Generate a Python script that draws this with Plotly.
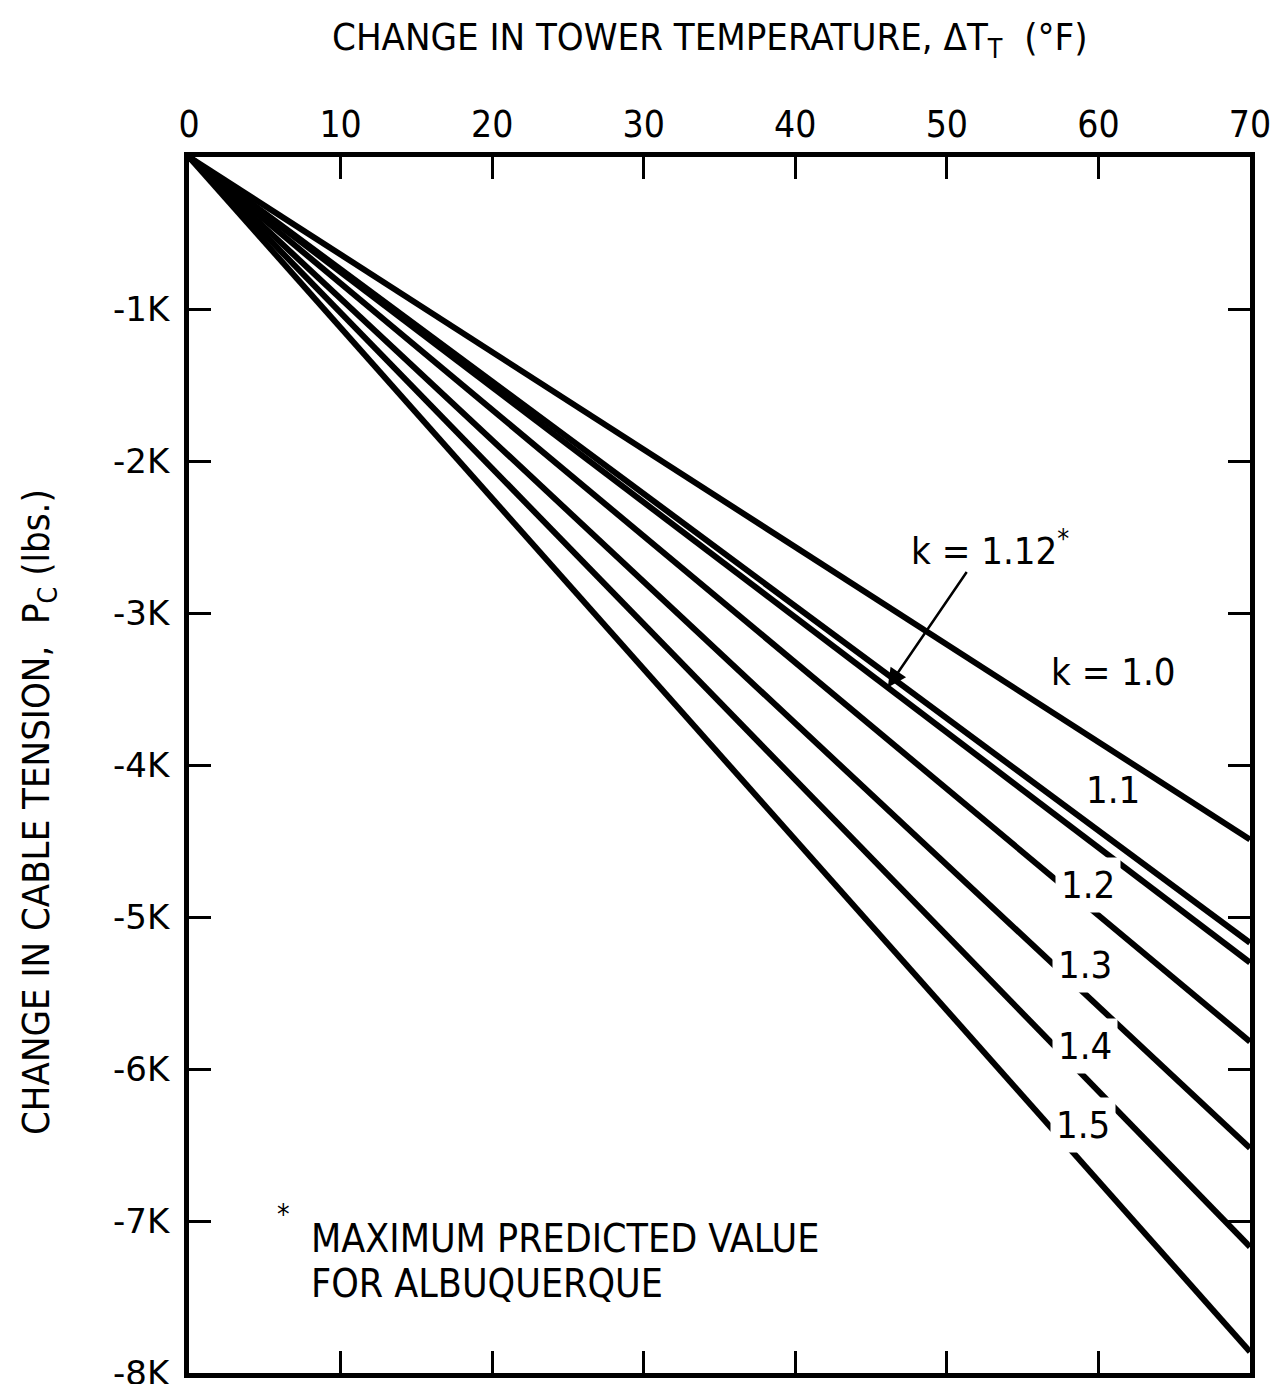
import plotly.graph_objects as go

# ---- data ----
temp_range = [0, 70]                       # change in tower temperature (deg F)
k_values = ["1.0", "1.1", "1.12", "1.2", "1.3", "1.4", "1.5"]
tension_at_end = [-4490, -5170, -5300, -5820, -6520, -7170, -7860]   # lbs at dT = 70

x_tick_vals = [0, 10, 20, 30, 40, 50, 60, 70]
x_tick_text = ["0", "10", "20", "30", "40", "50", "60", "70"]
y_tick_vals = [-1000, -2000, -3000, -4000, -5000, -6000, -7000, -8000]
y_tick_text = ["-1K", "-2K", "-3K", "-4K", "-5K", "-6K", "-7K", "-8K"]

NARROW = "DejaVu Sans Condensed, Liberation Sans Narrow, sans-serif"
WIDE = "DejaVu Sans, Liberation Sans, sans-serif"

fig = go.Figure()
for k, end in zip(k_values, tension_at_end):
    fig.add_trace(go.Scatter(
        x=temp_range, y=[0, end], mode="lines", name="k = " + k,
        line=dict(color="black", width=6), showlegend=False, hoverinfo="skip"))

axis_common = dict(showline=True, linewidth=5, linecolor="black", mirror="ticks",
                   ticks="inside", ticklen=22, tickwidth=3, tickcolor="black",
                   showgrid=False, zeroline=False, automargin=False,
                   ticklabeloverflow="allow")

fig.update_xaxes(range=[0, 70], side="top", tickvals=x_tick_vals, ticktext=x_tick_text,
                 tickfont=dict(family=NARROW, size=37, color="black"), **axis_common)
fig.update_yaxes(range=[-8000, 0], tickvals=y_tick_vals, ticktext=y_tick_text,
                 ticklabelstandoff=8,
                 tickfont=dict(family=WIDE, size=34, color="black"), **axis_common)

def note(text, x, y, size=38, bg=None, xanchor="left", **kw):
    fig.add_annotation(text=text, x=x, y=y, xref="paper", yref="paper", showarrow=False,
                       xanchor=xanchor, yanchor="middle",
                       font=dict(family=NARROW, size=size, color="black"),
                       bgcolor=bg if bg else "rgba(0,0,0,0)", borderpad=5, **kw)

# axis titles
note("CHANGE IN TOWER TEMPERATURE, ΔT<sub>T</sub>  (°F)", 0.491, 1.097, size=38, xanchor="center")
note("CHANGE IN CABLE TENSION,  P<sub>C</sub> (lbs.)", -0.1423, 0.4613, size=38,
     xanchor="center", textangle=-90)

# curve labels
note("k = 1.12<sup>*</sup>", 0.6748, 0.6785)
note("k = 1.0", 0.8068, 0.5765)
note("1.1", 0.8398, 0.4794)
note("1.2", 0.8162, 0.4013, bg="white")
note("1.3", 0.8134, 0.3355, bg="white")
note("1.4", 0.8134, 0.2689, bg="white")
note("1.5", 0.8115, 0.2039, bg="white")

# arrow to the k = 1.12 curve
arrow_x = 46.1
arrow_y = tension_at_end[k_values.index("1.12")] * arrow_x / temp_range[1]
fig.add_annotation(x=arrow_x, y=arrow_y, xref="x", yref="y", text="", showarrow=True,
                   arrowhead=2, arrowsize=1.5, arrowwidth=2.5, arrowcolor="black",
                   ax=80, ay=-117, standoff=0)

# footnote
note("*", 0.0886, 0.1300, size=28, xanchor="center")
note("MAXIMUM PREDICTED VALUE", 0.1093, 0.1110, size=39)
note("FOR ALBUQUERQUE", 0.1093, 0.0732, size=39)

# page has an 8 px body margin, so the margins are reduced by 8 px on the left/top
fig.update_layout(width=1278, height=1384, margin=dict(l=181, r=36, t=149, b=19),
                  plot_bgcolor="white", paper_bgcolor="white")
fig.write_html("out.html")
